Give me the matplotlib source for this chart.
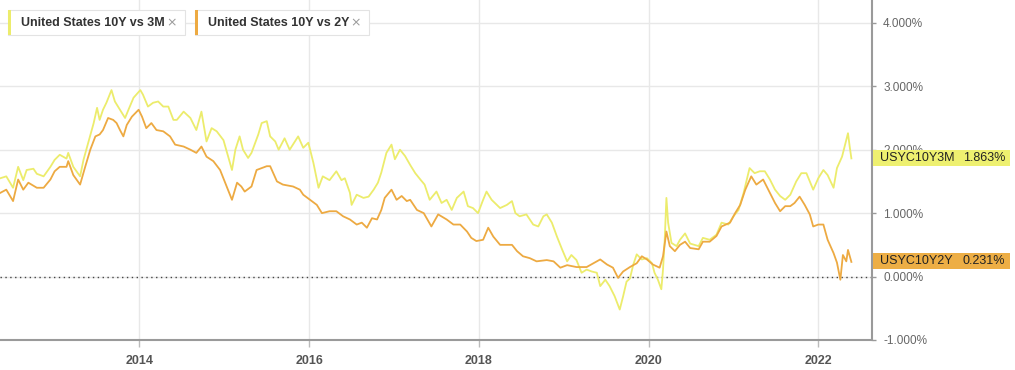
import matplotlib
matplotlib.use("Agg")
import matplotlib.pyplot as plt
from matplotlib.patches import Rectangle

# ---------------- data (decimal years, percent) ----------------
years_3m = [2012.36, 2012.43, 2012.51, 2012.57, 2012.63, 2012.67, 2012.75, 2012.79, 2012.87, 2012.95,
            2013.00, 2013.06, 2013.14, 2013.16, 2013.22, 2013.30, 2013.34, 2013.40, 2013.46, 2013.50,
            2013.53, 2013.57, 2013.61, 2013.67, 2013.71, 2013.77, 2013.83, 2013.87, 2013.93, 2014.01,
            2014.04, 2014.10, 2014.16, 2014.22, 2014.28, 2014.34, 2014.40,
            2014.44, 2014.52, 2014.60, 2014.67, 2014.73, 2014.79, 2014.85, 2014.91, 2014.99, 2015.05,
            2015.09, 2015.13, 2015.18, 2015.22, 2015.28, 2015.32, 2015.40, 2015.44, 2015.50, 2015.54,
            2015.60, 2015.64, 2015.71, 2015.77, 2015.87, 2015.93, 2015.99, 2016.05, 2016.11, 2016.16,
            2016.24, 2016.32, 2016.38, 2016.42,
            2016.48, 2016.50, 2016.56, 2016.64, 2016.70, 2016.76, 2016.81, 2016.85, 2016.91, 2016.97,
            2017.01, 2017.07, 2017.13, 2017.19, 2017.25, 2017.31, 2017.36, 2017.42, 2017.50, 2017.56,
            2017.62, 2017.68, 2017.74, 2017.82, 2017.87, 2017.93, 2017.99, 2018.05, 2018.09, 2018.15,
            2018.25,
            2018.33, 2018.39, 2018.43, 2018.48, 2018.56, 2018.64, 2018.70, 2018.76, 2018.80, 2018.86,
            2018.92, 2018.98, 2019.04, 2019.09, 2019.15, 2019.21, 2019.27, 2019.33, 2019.39, 2019.43,
            2019.49, 2019.54, 2019.60, 2019.66, 2019.70, 2019.74, 2019.78, 2019.82, 2019.86, 2019.92,
            2019.98, 2020.04, 2020.07, 2020.11, 2020.15, 2020.17, 2020.19, 2020.21, 2020.23, 2020.27,
            2020.33, 2020.37,
            2020.43, 2020.49, 2020.59, 2020.64, 2020.72, 2020.80, 2020.86, 2020.94, 2021.00, 2021.06,
            2021.12, 2021.19, 2021.25, 2021.31, 2021.37, 2021.43, 2021.49, 2021.55, 2021.61, 2021.67,
            2021.74, 2021.80, 2021.86, 2021.94, 2022.00, 2022.06, 2022.11, 2022.18, 2022.22, 2022.28,
            2022.31, 2022.35, 2022.37, 2022.39]
spread_10y3m = [1.55, 1.58, 1.40, 1.73, 1.52, 1.68, 1.70, 1.62, 1.58, 1.73,
                1.84, 1.92, 1.86, 1.95, 1.73, 1.58, 1.84, 2.13, 2.42, 2.66,
                2.47, 2.63, 2.74, 2.94, 2.76, 2.63, 2.50, 2.63, 2.82, 2.94,
                2.87, 2.68, 2.74, 2.76, 2.68, 2.68, 2.47,
                2.47, 2.60, 2.50, 2.31, 2.60, 2.13, 2.34, 2.29, 2.15, 1.87,
                1.68, 2.00, 2.21, 2.00, 1.87, 1.95, 2.24, 2.42, 2.45, 2.21,
                2.13, 2.00, 2.18, 2.00, 2.21, 2.03, 2.11, 1.79, 1.40, 1.58,
                1.52, 1.66, 1.52, 1.55,
                1.32, 1.13, 1.29, 1.24, 1.26, 1.37, 1.48, 1.64, 1.95, 2.08,
                1.85, 2.00, 1.90, 1.76, 1.63, 1.53, 1.45, 1.21, 1.34, 1.16,
                1.21, 1.05, 1.24, 1.34, 1.11, 1.08, 1.00, 1.21, 1.34, 1.21,
                1.08,
                1.13, 1.19, 1.00, 0.95, 0.98, 0.82, 0.79, 0.95, 0.98, 0.85,
                0.63, 0.43, 0.24, 0.34, 0.26, 0.06, 0.11, 0.08, 0.06, -0.15,
                -0.05, -0.15, -0.31, -0.52, -0.31, -0.08, -0.03, 0.19, 0.35, 0.27,
                0.29, 0.21, 0.06, -0.05, -0.20, 0.11, 0.58, 1.24, 0.85, 0.53,
                0.48, 0.58,
                0.68, 0.52, 0.48, 0.61, 0.58, 0.66, 0.85, 0.82, 0.95, 1.05,
                1.32, 1.71, 1.63, 1.66, 1.66, 1.53, 1.37, 1.27, 1.21, 1.29,
                1.50, 1.63, 1.63, 1.37, 1.55, 1.68, 1.60, 1.40, 1.71, 1.89,
                2.05, 2.26, 2.05, 1.863]

years_2y = [2012.36, 2012.43, 2012.51, 2012.57, 2012.63, 2012.69, 2012.79, 2012.87, 2012.95, 2013.00,
            2013.06, 2013.14, 2013.16, 2013.22, 2013.30, 2013.36, 2013.42, 2013.48, 2013.53, 2013.57,
            2013.63, 2013.69, 2013.73, 2013.77, 2013.81, 2013.85, 2013.91, 2013.99, 2014.03, 2014.08,
            2014.14, 2014.20, 2014.28, 2014.36, 2014.42,
            2014.52, 2014.60, 2014.67, 2014.73, 2014.79, 2014.87, 2014.95, 2015.01, 2015.09, 2015.15,
            2015.20, 2015.24, 2015.32, 2015.38, 2015.44, 2015.50, 2015.54, 2015.62, 2015.69, 2015.81,
            2015.89, 2015.93, 2016.01, 2016.09, 2016.15, 2016.24, 2016.32, 2016.40, 2016.48,
            2016.56, 2016.62, 2016.68, 2016.74, 2016.80, 2016.85, 2016.89, 2016.97, 2017.03, 2017.09,
            2017.15, 2017.19, 2017.27, 2017.35, 2017.44, 2017.52, 2017.62, 2017.70, 2017.78, 2017.86,
            2017.91, 2017.97, 2018.05, 2018.11, 2018.17, 2018.25,
            2018.33, 2018.39, 2018.45, 2018.52, 2018.60, 2018.68, 2018.80, 2018.88, 2018.96, 2019.04,
            2019.15, 2019.27, 2019.35, 2019.43, 2019.51, 2019.58, 2019.64, 2019.70, 2019.78, 2019.86,
            2019.92, 2019.98, 2020.05, 2020.13, 2020.17, 2020.21, 2020.25, 2020.31, 2020.37,
            2020.43, 2020.49, 2020.59, 2020.64, 2020.72, 2020.80, 2020.86, 2020.96, 2021.02, 2021.08,
            2021.14, 2021.21, 2021.27, 2021.35, 2021.41, 2021.49, 2021.55, 2021.61, 2021.67, 2021.72,
            2021.78, 2021.84, 2021.90, 2021.94, 2022.00, 2022.06, 2022.11, 2022.18, 2022.22, 2022.26,
            2022.29, 2022.33, 2022.35, 2022.39]
spread_10y2y = [1.32, 1.37, 1.19, 1.53, 1.37, 1.48, 1.40, 1.40, 1.53, 1.66,
                1.73, 1.73, 1.82, 1.60, 1.45, 1.73, 2.00, 2.21, 2.24, 2.31,
                2.50, 2.47, 2.42, 2.31, 2.21, 2.39, 2.52, 2.63, 2.52, 2.34,
                2.42, 2.31, 2.29, 2.21, 2.08,
                2.05, 2.00, 1.95, 2.05, 1.89, 1.82, 1.68, 1.48, 1.21, 1.48,
                1.42, 1.34, 1.42, 1.68, 1.71, 1.74, 1.74, 1.50, 1.45, 1.42,
                1.37, 1.29, 1.21, 1.13, 1.00, 1.03, 1.03, 0.95, 0.90,
                0.82, 0.85, 0.77, 0.92, 0.90, 1.05, 1.24, 1.37, 1.21, 1.27,
                1.19, 1.21, 1.05, 1.00, 0.79, 0.98, 0.90, 0.82, 0.82, 0.71,
                0.61, 0.56, 0.58, 0.77, 0.63, 0.50,
                0.50, 0.50, 0.40, 0.32, 0.29, 0.24, 0.26, 0.24, 0.14, 0.18,
                0.15, 0.15, 0.21, 0.27, 0.19, 0.14, -0.02, 0.08, 0.15, 0.21,
                0.32, 0.27, 0.19, 0.14, 0.32, 0.71, 0.48, 0.40, 0.50,
                0.55, 0.45, 0.43, 0.55, 0.55, 0.64, 0.79, 0.85, 1.00, 1.13,
                1.37, 1.58, 1.45, 1.53, 1.37, 1.16, 1.03, 1.11, 1.11, 1.16,
                1.26, 1.13, 0.98, 0.79, 0.82, 0.82, 0.58, 0.37, 0.22, -0.05,
                0.34, 0.24, 0.42, 0.231]

series_names = ["United States 10Y vs 3M", "United States 10Y vs 2Y"]
series_codes = ["USYC10Y3M", "USYC10Y2Y"]
last_values = [1.863, 0.231]
y_ticks = [-1, 0, 1, 2, 3, 4]
x_ticks = [2014, 2016, 2018, 2020, 2022]

# ---------------- styling ----------------
C_3M = "#ECEC6C"
C_2Y = "#EDAA42"
BADGE_3M = "#EEF070"
BADGE_2Y = "#EDAE45"
FONT = "Liberation Sans"

W, H = 1015, 370
fig = plt.figure(figsize=(W / 100, H / 100), dpi=100)
ax = fig.add_axes([0, 30 / H, 872 / W, 340 / H])

ax.plot(years_3m, spread_10y3m, color=C_3M, lw=1.3, zorder=3, solid_joinstyle="round")
ax.plot(years_2y, spread_10y2y, color=C_2Y, lw=1.3, zorder=4, solid_joinstyle="round")
ax.axhline(0, color="#444444", lw=1.0, ls=(0, (1, 2.5)), zorder=2)

ax.set_xlim(2012.356, 2022.633)
ax.set_ylim(-1.0, 4.36)

ax.set_yticks(y_ticks)
ax.set_yticklabels([f"{v:.3f}%" for v in y_ticks])
ax.set_xticks(x_ticks)
ax.set_xticklabels([str(v) for v in x_ticks])
ax.yaxis.tick_right()
ax.tick_params(axis="y", length=3, width=1, color="#999999", pad=5,
               labelsize=8.5, labelcolor="#666666")
ax.tick_params(axis="x", length=5, width=1, color="#bbbbbb", pad=6,
               labelsize=9, labelcolor="#555555")
for lab in ax.get_xticklabels():
    lab.set_fontfamily(FONT)
    lab.set_fontweight("bold")
for lab in ax.get_yticklabels():
    lab.set_fontfamily(FONT)

ax.grid(True, color="#e8e8e8", lw=1.0, zorder=0)
ax.set_axisbelow(True)
for s in ["top", "left"]:
    ax.spines[s].set_visible(False)
for s in ["right", "bottom"]:
    ax.spines[s].set_color("#9a9a9a")
    ax.spines[s].set_linewidth(1.5)


def fx(px):
    return px / W


def fy(py):
    return 1 - py / H


# legend chips
chips = [(8, 185, C_3M), (195, 369, C_2Y)]
for (x0, x1, col), name in zip(chips, series_names):
    fig.add_artist(Rectangle((fx(x0), fy(35)), fx(x1 - x0), 25 / H, transform=fig.transFigure,
                             facecolor="white", edgecolor="#e3e3e3", lw=0.8, zorder=5))
    fig.add_artist(Rectangle((fx(x0), fy(35)), fx(3), 25 / H, transform=fig.transFigure,
                             facecolor=col, edgecolor="none", zorder=6))
    fig.text(fx(x0 + 13), fy(22.5), name, fontsize=9, fontfamily=FONT, fontweight="bold",
             color="#333333", va="center", ha="left", zorder=7)
    fig.text(fx(x1 - 13), fy(22.5), "\u00d7", fontsize=9, fontfamily="DejaVu Sans",
             color="#9a9a9a", va="center", ha="center", zorder=7)

# right-side value badges
badges = [(150, 166, BADGE_3M), (253, 269, BADGE_2Y)]
for (t, b, col), code, val in zip(badges, series_codes, last_values):
    fig.add_artist(Rectangle((fx(873), fy(b)), fx(1010 - 873), (b - t) / H, transform=fig.transFigure,
                             facecolor=col, edgecolor="none", zorder=5))
    fig.text(fx(880), fy((t + b) / 2), code, fontsize=9, fontfamily=FONT,
             color="#222222", va="center", ha="left", zorder=6)
    fig.text(fx(1005), fy((t + b) / 2), f"{val:.3f}%", fontsize=9, fontfamily=FONT,
             color="#222222", va="center", ha="right", zorder=6)

fig.savefig("out.png", dpi=100)
